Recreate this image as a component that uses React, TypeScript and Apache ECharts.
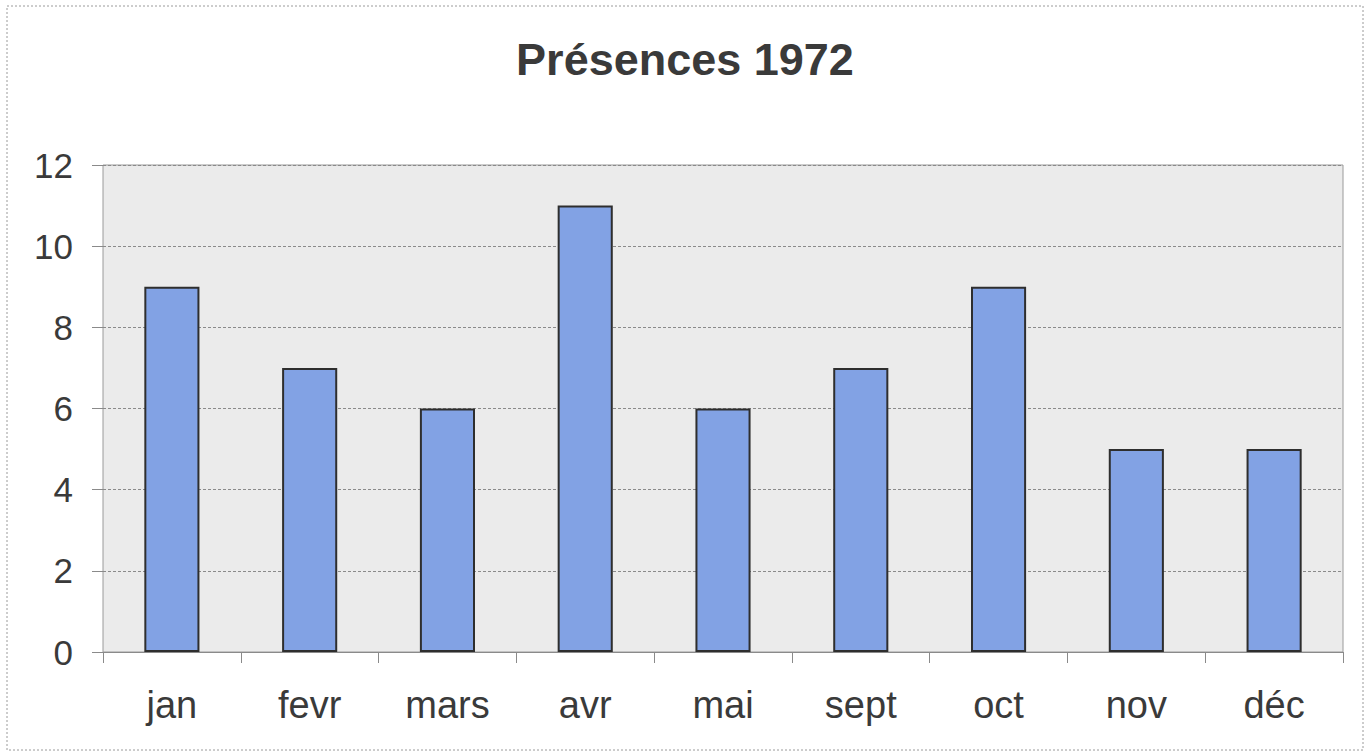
import React, { useEffect, useRef } from "react";
import * as echarts from "echarts";

const categories = ["jan", "fevr", "mars", "avr", "mai", "sept", "oct", "nov", "déc"];
const presences = [9, 7, 6, 11, 6, 7, 9, 5, 5];
const yTicks = [0, 2, 4, 6, 8, 10, 12];
const title = "Présences 1972";

export default function App() {
  const ref = useRef<HTMLDivElement>(null);
  useEffect(() => {
    if (!ref.current) return;
    const chart = echarts.init(ref.current, null, { renderer: "svg" });
    chart.setOption({
      animation: false,
      backgroundColor: "#ffffff",
      title: {
        text: title,
        left: "center",
        top: 32,
        textStyle: { fontFamily: "Liberation Sans, Arial, sans-serif", fontSize: 45, fontWeight: "bold", color: "#3a3a3a" },
      },
      graphic: [
        {
          type: "rect",
          shape: { x: 7, y: 6, width: 1356, height: 744 },
          style: { fill: "none", stroke: "#9a9a9a", lineWidth: 1, lineDash: [2, 2] },
          silent: true,
        },
      ],
      grid: {
        left: 103,
        right: 27,
        top: 165,
        bottom: 101,
        show: true,
        backgroundColor: "#ebebeb",
        borderColor: "#9a9a9a",
        borderWidth: 1,
      },
      xAxis: {
        type: "category",
        data: categories,
        axisLine: { show: true, lineStyle: { color: "#8a8a8a", width: 1 } },
        axisTick: { show: true, length: 11, alignWithLabel: false, lineStyle: { color: "#8a8a8a" } },
        axisLabel: {
          margin: 34,
          fontSize: 38,
          fontFamily: "Liberation Sans, Arial, sans-serif",
          color: "#3a3a3a",
        },
      },
      yAxis: {
        type: "value",
        min: yTicks[0],
        max: yTicks[yTicks.length - 1],
        interval: 2,
        axisLine: { show: false },
        axisTick: { show: true, length: 11, lineStyle: { color: "#8a8a8a" } },
        axisLabel: {
          margin: 30,
          fontSize: 35,
          fontFamily: "Liberation Sans, Arial, sans-serif",
          color: "#3a3a3a",
        },
        splitLine: { show: true, lineStyle: { color: "#8a8a8a", type: [3, 2], width: 1 } },
      },
      series: [
        {
          type: "bar",
          data: presences,
          barWidth: "40%",
          itemStyle: { color: "#82a2e4", borderColor: "#2e2e2e", borderWidth: 2 },
        },
      ],
    });
    return () => chart.dispose();
  }, []);
  return <div ref={ref} style={{ position: "absolute", left: 0, top: 0, width: 1370, height: 753 }} />;
}
